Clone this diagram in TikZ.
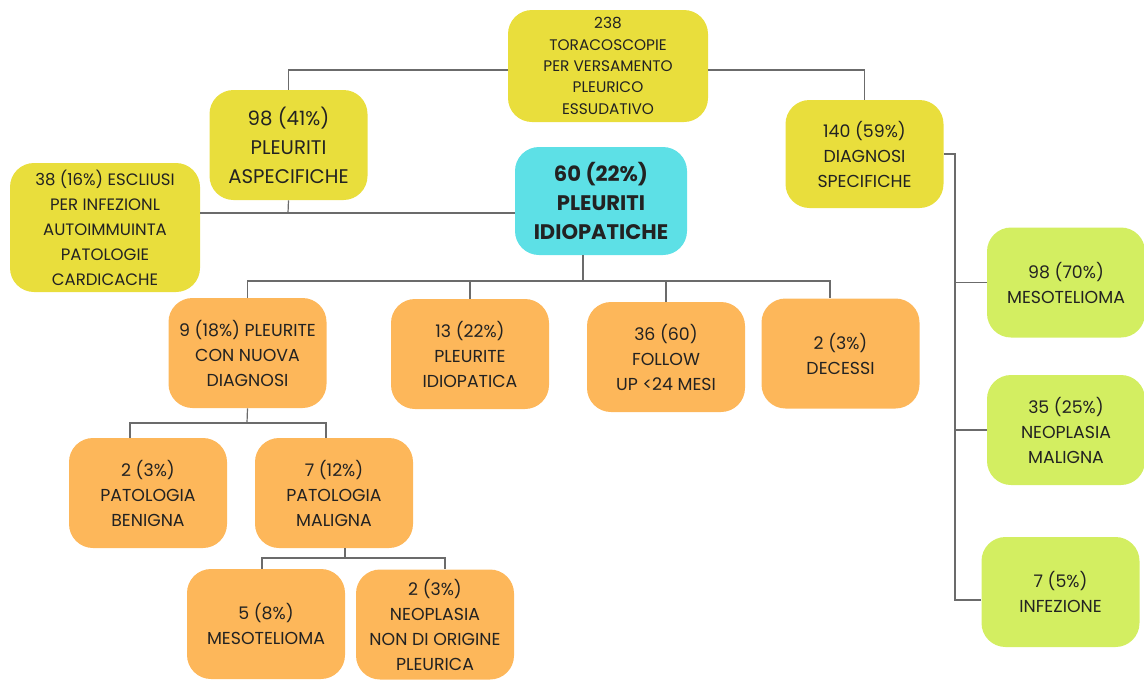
\documentclass[tikz,border=0pt]{standalone}
\usepackage{fontspec}
\setmainfont{Poppins}
\usetikzlibrary{positioning,calc}
\definecolor{mustard}{HTML}{E9DE3C}
\definecolor{aqua}{HTML}{5DE0E6}
\definecolor{peach}{HTML}{FDB75A}
\definecolor{lime}{HTML}{D3EE61}
\definecolor{wire}{HTML}{6B6B6B}
\definecolor{ink}{HTML}{222222}

\begin{document}
\begin{tikzpicture}[x=0.75pt,y=-0.75pt,
  bx/.style={rounded corners=18pt,minimum width=118.5pt,minimum height=82.5pt,inner sep=0pt,
            align=center,text=ink,font=\fontsize{13}{18.75}\selectfont},
  yb/.style={bx,fill=mustard},
  ob/.style={bx,fill=peach},
  gb/.style={bx,fill=lime},
  big/.style={font=\fontsize{14.8}{21.75}\selectfont},
  ln/.style={draw=wire,line width=0.9pt}]

\useasboundingbox (0,0) rectangle (1144,679);

% top level
\node[yb,minimum width=150pt,minimum height=84pt,font=\fontsize{11.5}{16}\selectfont] (tot) at (608,66)
  {238\\TORACOSCOPIE\\PER VERSAMENTO\\PLEURICO\\ESSUDATIVO};
\node[yb,big] (asp)  at (288.5,145) {98 (41\%)\\PLEURITI\\ASPECIFICHE};
\node[yb,minimum width=142.5pt,minimum height=96.75pt,font=\fontsize{12.4}{18.75}\selectfont] (excl) at (105,227.5)
  {38 (16\%) ESCLIUSI\\PER INFEZIONL\\AUTOIMMUINTA\\PATOLOGIE\\CARDICACHE};
\node[bx,fill=aqua,minimum width=129pt,minimum height=81pt,font=\fontsize{15.8}{21.75}\selectfont\bfseries] (idio) at (601,201)
  {60 (22\%)\\PLEURITI\\IDIOPATICHE};
\node[yb,minimum height=81pt] (spec) at (864.5,154) {140 (59\%)\\DIAGNOSI\\SPECIFICHE};

% specific diagnoses
\node[gb] (meso) at (1066,282.5) {98 (70\%)\\MESOTELIOMA};
\node[gb] (neo)  at (1066,430)   {35 (25\%)\\NEOPLASIA\\MALIGNA};
\node[gb] (inf)  at (1060.5,592) {7 (5\%)\\INFEZIONE};

% idiopathic follow-up
\node[ob] (nuova)  at (247.5,353) {9 (18\%) PLEURITE\\CON NUOVA\\DIAGNOSI};
\node[ob] (idiop)  at (470,354)   {13 (22\%)\\PLEURITE\\IDIOPATICA};
\node[ob] (follow) at (666,357)   {36 (60)\\FOLLOW\\UP <24 MESI};
\node[ob] (dec)    at (840.5,353.5) {2 (3\%)\\DECESSI};

\node[ob] (ben) at (148,493) {2 (3\%)\\PATOLOGIA\\BENIGNA};
\node[ob] (mal) at (334,493) {7 (12\%)\\PATOLOGIA\\MALIGNA};

\node[ob] (meso2) at (266,624)   {5 (8\%)\\MESOTELIOMA};
\node[ob] (neo2)  at (435,624.5) {2 (3\%)\\NEOPLASIA\\NON DI ORIGINE\\PLEURICA};

% junctions
\coordinate (j1) at (288,213);
\coordinate (j2) at (583,281);
\coordinate (j3) at (955,154);
\coordinate (j3b) at (955,600);
\coordinate (j4) at (247,423);
\coordinate (j4l) at (130,423);
\coordinate (j4r) at (326,423);
\coordinate (j2r) at (830,281);
\coordinate (j5) at (345,558);
\coordinate (j5l) at (262,558);
\coordinate (j5r) at (445,558);

\draw[ln] ([yshift=-3pt]tot.west) -| (asp.north);
\draw[ln] ([yshift=-3pt]tot.east) -| (spec.north);

\draw[ln] (asp.south) -- (j1);
\draw[ln] (excl.east |- j1) -- (idio.west |- j1);

\draw[ln] (idio.south -| j2) -- (j2);
\draw[ln] (nuova.north) |- (j2r) -- (j2r |- dec.north);
\draw[ln] (idiop.north) -- (idiop.north |- j2);
\draw[ln] (follow.north) -- (follow.north |- j2);

\draw[ln] (spec.east) -- (j3) -- (j3b) -- (j3b -| inf.west);
\draw[ln] (j3 |- meso.west) -- (meso.west);
\draw[ln] (j3 |- neo.west) -- (neo.west);

\draw[ln] (nuova.south) -- (j4);
\draw[ln] (ben.north -| j4l) -- (j4l) -- (j4r) -- (mal.north -| j4r);

\draw[ln] (mal.south -| j5) -- (j5);
\draw[ln] (meso2.north -| j5l) -- (j5l) -- (j5r) -- (neo2.north -| j5r);
\end{tikzpicture}
\end{document}
